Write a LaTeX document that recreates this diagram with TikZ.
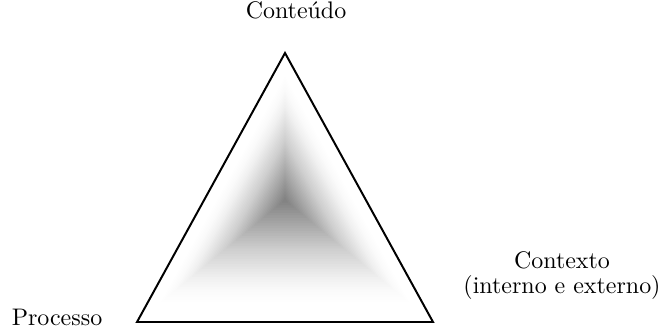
\documentclass[tikz,border=0pt]{standalone}
\usetikzlibrary{calc}
\tikzset{
  cornerlabel/.style={inner sep=0pt, align=center, font=\fontsize{10.3}{10.6}\selectfont},
  rim/.style={draw=black, line width=0.85pt, line join=miter},
}

\begin{document}
\begin{tikzpicture}[x=0.43pt,y=-0.43pt]
  \useasboundingbox (0,0) rectangle (660,327);
  \coordinate (top) at (285,53);
  \coordinate (left) at (137,322);
  \coordinate (right) at (433,322);
  \coordinate (core) at (285,200);
  \foreach \k in {0,...,40}{
    \pgfmathsetmacro\s{0.84-\k*0.021}
    \pgfmathsetmacro\o{0.003+0.0007*\k}
    \fill[black, fill opacity=\o] ($(core)!\s!(top)$) -- ($(core)!\s!(left)$) -- ($(core)!\s!(right)$) -- cycle;
  }
  \draw[rim] (top) -- (left) -- (right) -- cycle;
  \node[cornerlabel, anchor=base] (conteudo) at (296,19) {Conteúdo};
  \node[cornerlabel, anchor=base] (processo) at (57,325) {Processo};
  \node[cornerlabel, anchor=base] (contexto) at (562,293) {Contexto\\(interno e externo)};
\end{tikzpicture}
\end{document}
